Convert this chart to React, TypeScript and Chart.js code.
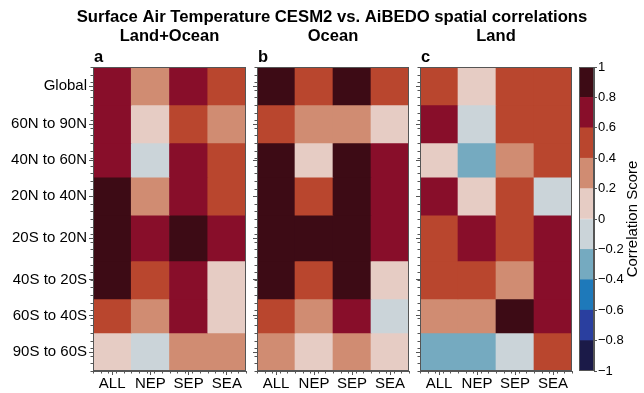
import React, { useEffect, useRef } from 'react';
import { Chart, registerables } from 'chart.js';

Chart.register(...registerables);

// ---------- data ----------
const regions = ['Global', '60N to 90N', '40N to 60N', '20N to 40N', '20S to 20N', '40S to 20S', '60S to 40S', '90S to 60S'];
const rowEdges = [0, 1, 2, 2.9, 3.9, 5.1, 6.1, 7, 8];
const columns = ['ALL', 'NEP', 'SEP', 'SEA'];

// rows follow `regions`, columns follow `columns`
const landOcean = [
  [0.7, 0.3, 0.7, 0.5],
  [0.7, 0.1, 0.5, 0.3],
  [0.7, -0.1, 0.7, 0.5],
  [0.9, 0.3, 0.7, 0.5],
  [0.9, 0.7, 0.9, 0.7],
  [0.9, 0.5, 0.7, 0.1],
  [0.5, 0.3, 0.7, 0.1],
  [0.1, -0.1, 0.3, 0.3],
];
const ocean = [
  [0.9, 0.5, 0.9, 0.5],
  [0.5, 0.3, 0.3, 0.1],
  [0.9, 0.1, 0.9, 0.7],
  [0.9, 0.5, 0.9, 0.7],
  [0.9, 0.9, 0.9, 0.7],
  [0.9, 0.5, 0.9, 0.1],
  [0.5, 0.3, 0.7, -0.1],
  [0.3, 0.1, 0.3, 0.1],
];
const land = [
  [0.5, 0.1, 0.5, 0.5],
  [0.7, -0.1, 0.5, 0.5],
  [0.1, -0.3, 0.3, 0.5],
  [0.7, 0.1, 0.5, -0.1],
  [0.5, 0.7, 0.5, 0.7],
  [0.5, 0.5, 0.3, 0.7],
  [0.3, 0.3, 0.9, 0.7],
  [-0.3, -0.3, -0.1, 0.5],
];

const colorLevels = [-1, -0.8, -0.6, -0.4, -0.2, 0, 0.2, 0.4, 0.6, 0.8, 1];
const levelColors = ['#1b1a48', '#2a3f9f', '#1e79ba', '#75aac0', '#cbd4d9', '#e6ccc4', '#d08c72', '#b9462e', '#880e2a', '#3d0b15'];
const colorbarTicks = [-1, -0.8, -0.6, -0.4, -0.2, 0, 0.2, 0.4, 0.6, 0.8, 1];

const titleText = 'Surface Air Temperature CESM2 vs. AiBEDO spatial correlations';
const panelTitles = ['Land+Ocean', 'Ocean', 'Land'];
const panelLetters = ['a', 'b', 'c'];
const colorbarLabel = 'Correlation Score';

// ---------- helpers ----------
const FONT = "'Liberation Sans', Arial, Helvetica, sans-serif";
const W = 644;
const H = 393;
const TOP = 67;
const BOTTOM = 371;

function colorFor(v: number): string {
  for (let i = 0; i < levelColors.length; i++) {
    if (v >= colorLevels[i] && v < colorLevels[i + 1]) return levelColors[i];
  }
  return levelColors[levelColors.length - 1];
}

function fmt(v: number): string {
  const r = Math.round(v * 10) / 10;
  if (r === 0) return '0';
  return (r < 0 ? '\u2212' : '') + String(Math.abs(r));
}

type Txt = { text: string; x: number; y: number; size: number; bold?: boolean; align?: CanvasTextAlign; rotate?: boolean };

const decorPlugin = {
  id: 'decor',
  afterDraw(chart: any, _args: any, opts: any) {
    const { ctx, chartArea: a } = chart;
    ctx.save();
    ctx.strokeStyle = '#555';
    ctx.lineWidth = 1;
    ctx.strokeRect(Math.round(a.left) + 0.5, Math.round(a.top) + 0.5, Math.round(a.right - a.left) - 1, Math.round(a.bottom - a.top) - 1);
    if (opts.minorTicks) {
      const ys = chart.scales.y;
      for (let k = 0; k <= 40; k++) {
        const p = Math.round(ys.getPixelForValue(k * 0.2)) + 0.5;
        ctx.beginPath();
        ctx.moveTo(a.left - 2.5, p);
        ctx.lineTo(a.left, p);
        ctx.stroke();
      }
      const xs = chart.scales.x;
      for (let k = 0; k <= 20; k++) {
        const p = Math.round(xs.getPixelForValue(-0.5 + k * 0.2)) + 0.5;
        ctx.beginPath();
        ctx.moveTo(p, a.bottom);
        ctx.lineTo(p, a.bottom + 2.5);
        ctx.stroke();
      }
    }
    const texts: Txt[] = opts.texts || [];
    for (const t of texts) {
      ctx.save();
      ctx.fillStyle = '#000';
      ctx.font = `${t.bold ? 'bold ' : ''}${t.size}px ${FONT}`;
      ctx.textAlign = t.align || 'center';
      ctx.textBaseline = t.rotate ? 'middle' : 'alphabetic';
      ctx.translate(t.x, t.y);
      if (t.rotate) ctx.rotate(-Math.PI / 2);
      ctx.fillText(t.text, 0, 0);
      ctx.restore();
    }
    ctx.restore();
  },
};

function panelConfig(values: number[][], left: number, right: number, showLabels: boolean, texts: Txt[]): any {
  const yAxisWidth = showLabels ? 93 : 6;
  const rowCenters = regions.map((_, i) => (rowEdges[i] + rowEdges[i + 1]) / 2);
  const datasets = regions.map((r, i) => ({
    label: r,
    data: columns.map((c, j) => ({ x: c, y: [rowEdges[i], rowEdges[i + 1]], v: values[i][j] })),
    backgroundColor: (ctx: any) => colorFor(ctx.raw ? ctx.raw.v : 0),
    borderWidth: 0,
    grouped: false,
    barPercentage: 1,
    categoryPercentage: 1,
  }));
  return {
    type: 'bar',
    data: { labels: columns, datasets },
    plugins: [decorPlugin],
    options: {
      responsive: false,
      animation: false,
      devicePixelRatio: 1,
      layout: { padding: { left: left - yAxisWidth, right: W - right, top: TOP, bottom: 0 } },
      plugins: {
        legend: { display: false },
        tooltip: { enabled: false },
        decor: { minorTicks: true, texts },
      },
      scales: {
        x: {
          type: 'category',
          offset: true,
          ticks: { font: { family: FONT, size: 15 }, color: '#000', padding: 0, maxRotation: 0, autoSkip: false },
          grid: { offset: false, drawOnChartArea: false, drawTicks: true, tickLength: 4, tickColor: '#555', tickWidth: 1 },
          border: { display: true, color: '#555' },
          afterFit: (s: any) => { s.height = H - BOTTOM; },
        },
        y: {
          type: 'linear',
          min: 0,
          max: 8,
          reverse: true,
          afterBuildTicks: (s: any) => { s.ticks = rowCenters.map((v) => ({ value: v })); },
          ticks: {
            display: showLabels,
            autoSkip: false,
            callback: (_v: any, i: number) => regions[i],
            font: { family: FONT, size: 15 },
            color: '#000',
            padding: 2,
          },
          grid: { drawOnChartArea: false, drawTicks: true, tickLength: 4, tickColor: '#555', tickWidth: 1 },
          border: { display: true, color: '#555' },
          afterFit: (s: any) => { s.width = yAxisWidth; },
        },
      },
    },
  };
}

function colorbarConfig(left: number, right: number, texts: Txt[]): any {
  const axisW = 32;
  const datasets = levelColors.map((c, i) => ({
    label: fmt(colorLevels[i]),
    data: [{ x: 'cb', y: [colorLevels[i], colorLevels[i + 1]] }],
    backgroundColor: c,
    borderWidth: 0,
    grouped: false,
    barPercentage: 1,
    categoryPercentage: 1,
  }));
  return {
    type: 'bar',
    data: { labels: ['cb'], datasets },
    plugins: [decorPlugin],
    options: {
      responsive: false,
      animation: false,
      devicePixelRatio: 1,
      layout: { padding: { left, right: W - right - axisW, top: TOP, bottom: H - BOTTOM } },
      plugins: {
        legend: { display: false },
        tooltip: { enabled: false },
        decor: { minorTicks: false, texts },
      },
      scales: {
        x: { type: 'category', display: false, offset: true },
        y: {
          type: 'linear',
          position: 'right',
          min: -1,
          max: 1,
          afterBuildTicks: (s: any) => { s.ticks = colorbarTicks.map((v) => ({ value: v })); },
          ticks: {
            autoSkip: false,
            callback: (v: any) => fmt(Number(v)),
            font: { family: FONT, size: 13 },
            color: '#000',
            padding: 1,
          },
          grid: { drawOnChartArea: false, drawTicks: true, tickLength: 3, tickColor: '#555', tickWidth: 1 },
          border: { display: true, color: '#555' },
          afterFit: (s: any) => { s.width = axisW; },
        },
      },
    },
  };
}

export default function App() {
  const aRef = useRef<HTMLCanvasElement>(null);
  const bRef = useRef<HTMLCanvasElement>(null);
  const cRef = useRef<HTMLCanvasElement>(null);
  const cbRef = useRef<HTMLCanvasElement>(null);

  useEffect(() => {
    const panels = [
      { ref: aRef, values: landOcean, left: 93, right: 246, labels: true },
      { ref: bRef, values: ocean, left: 257, right: 409, labels: false },
      { ref: cRef, values: land, left: 420, right: 572, labels: false },
    ];
    const charts: Chart[] = panels.map((p, i) => {
      const texts: Txt[] = [
        { text: panelTitles[i], x: (p.left + p.right) / 2, y: 41, size: 16.5, bold: true },
        { text: panelLetters[i], x: p.left + 1, y: 62, size: 16.5, bold: true, align: 'left' },
      ];
      if (i === 1) texts.push({ text: titleText, x: 332, y: 22, size: 16.7, bold: true });
      return new Chart(p.ref.current as HTMLCanvasElement, panelConfig(p.values, p.left, p.right, p.labels, texts));
    });
    charts.push(
      new Chart(
        cbRef.current as HTMLCanvasElement,
        colorbarConfig(579, 594, [{ text: colorbarLabel, x: 633, y: 219, size: 15, rotate: true }])
      )
    );
    return () => charts.forEach((c) => c.destroy());
  }, []);

  const cs: React.CSSProperties = { position: 'absolute', left: 0, top: 0 };
  return (
    <div style={{ position: 'absolute', left: 0, top: 0, width: W, height: H, background: '#fff' }}>
      <canvas ref={aRef} width={W} height={H} style={cs} />
      <canvas ref={bRef} width={W} height={H} style={cs} />
      <canvas ref={cRef} width={W} height={H} style={cs} />
      <canvas ref={cbRef} width={W} height={H} style={cs} />
    </div>
  );
}
